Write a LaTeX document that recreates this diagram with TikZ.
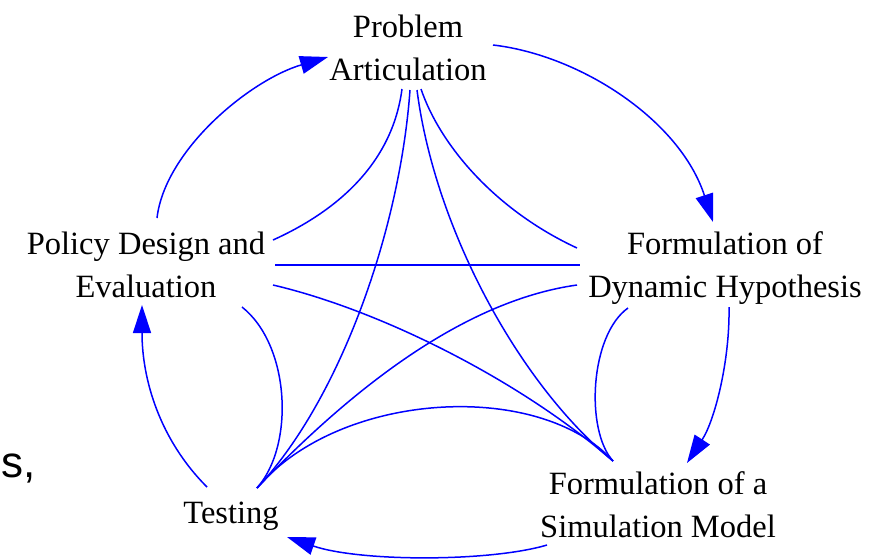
\documentclass[tikz,border=0pt]{standalone}
\usepackage{fontspec}
\setmainfont{Liberation Serif}
\newfontfamily\sansfnt{Liberation Sans}
\usetikzlibrary{arrows.meta}
\definecolor{lnk}{RGB}{0,0,255}
\begin{document}
\begin{tikzpicture}[x=1pt,y=-1pt,
  lbl/.style={font=\fontsize{32.5}{43}\selectfont, align=center, anchor=base, inner sep=0pt},
  link/.style={draw=lnk, line width=1.5pt},
  flow/.style={link, -{Triangle[length=28pt,width=18pt]}, fill=none}]
\useasboundingbox (0,0) rectangle (879,558);
% labels (anchor = baseline of the last line)
\node[lbl] (PA) at (408,80) {Problem\\Articulation};
\node[lbl] (PD) at (146,297) {Policy Design and\\Evaluation};
\node[lbl] (DH) at (725,297) {Formulation of\\Dynamic Hypothesis};
\node[lbl] (SM) at (658,537) {Formulation of a\\Simulation Model};
\node[lbl] (TE) at (231,523) {Testing};
\node[font=\sansfnt\fontsize{44}{50}\selectfont, anchor=base west, inner sep=0pt] (frag) at (1,477) {s,};
% connector end points
\coordinate (pa1) at (402,89);
\coordinate (pa2) at (410,90);
\coordinate (pa3) at (417,90);
\coordinate (pa4) at (421,89);
\coordinate (pd1) at (273,240);
\coordinate (pd2) at (275,265);
\coordinate (pd3) at (273,285);
\coordinate (pd4) at (242,307);
\coordinate (dh1) at (577,248);
\coordinate (dh2) at (580,265);
\coordinate (dh3) at (577,285);
\coordinate (dh4) at (628,308);
\coordinate (te0) at (257,488);
\coordinate (sm0) at (613,461);
% outer cycle end points
\coordinate (pdo) at (157,218);
\coordinate (pai) at (328,57);
\coordinate (pao) at (493,45);
\coordinate (dhi) at (713,222);
\coordinate (dho) at (729,307);
\coordinate (smi) at (687,463);
\coordinate (smo) at (547,545);
\coordinate (tei) at (287,537);
\coordinate (teo) at (207,487);
\coordinate (pdi) at (142,305);
% inner links
\draw[link] (pa1) .. controls (392,165) and (335,212) .. (pd1);
\draw[link] (pa4) .. controls (440,145) and (495,210) .. (dh1);
\draw[link] (pa2) .. controls (400,230) and (340,400) .. (te0);
\draw[link] (pa3) .. controls (435,230) and (520,385) .. (sm0);
\draw[link] (pd2) -- (dh2);
\draw[link] (pd3) .. controls (380,310) and (520,380) .. (sm0);
\draw[link] (dh3) .. controls (470,300) and (360,380) .. (te0);
\draw[link] (te0) .. controls (340,390) and (540,380) .. (sm0);
\draw[link] (pd4) .. controls (290,345) and (295,445) .. (te0);
\draw[link] (dh4) .. controls (590,335) and (585,430) .. (sm0);
% outer cycle
\draw[flow] (pdo) .. controls (165,150) and (250,80) .. (pai);
\draw[flow] (pao) .. controls (580,55) and (680,120) .. (dhi);
\draw[flow] (dho) .. controls (730,360) and (715,420) .. (smi);
\draw[flow] (smo) .. controls (490,562) and (360,562) .. (tei);
\draw[flow] (teo) .. controls (160,440) and (142,380) .. (pdi);
\end{tikzpicture}
\end{document}
